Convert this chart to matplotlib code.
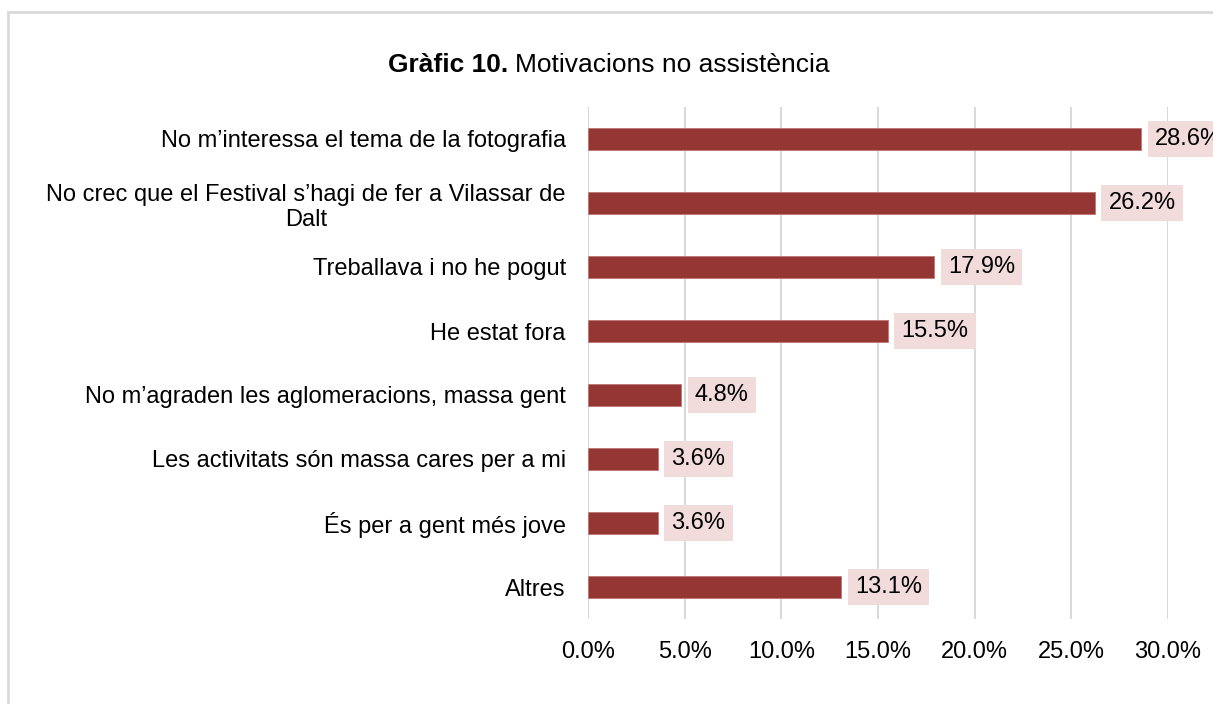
import matplotlib.pyplot as plt
from matplotlib.patches import Rectangle

plt.rcParams['font.family'] = ['Liberation Sans', 'DejaVu Sans']

# Data
categories = ['No m\u2019interessa el tema de la fotografia',
              'No crec que el Festival s\u2019hagi de fer a Vilassar de\nDalt',
              'Treballava i no he pogut',
              'He estat fora',
              'No m\u2019agraden les aglomeracions, massa gent',
              'Les activitats són massa cares per a mi',
              'És per a gent més jove',
              'Altres']
values = [28.6, 26.2, 17.9, 15.5, 4.8, 3.6, 3.6, 13.1]
x_ticks = [0, 5, 10, 15, 20, 25, 30]

W, H = 1213, 704
FS = 17
fig = plt.figure(figsize=(W / 100, H / 100), dpi=100)
ax = fig.add_axes([588 / W, 1 - 619 / H, (1168 - 588) / W, (619 - 107) / H])

# gray frame around the chart area
fig.patches.append(Rectangle((8 / W, -0.1), 1.2, 1 - 12 / H + 0.1,
                             transform=fig.transFigure, fill=False,
                             edgecolor='#d9d9d9', linewidth=2))

pos = list(range(len(categories)))
ax.barh(pos, values, height=0.35, color='#943634', edgecolor='#c07472',
        linewidth=0.6, zorder=3)

for p, v in zip(pos, values):
    ax.annotate(f'{v:.1f}%', xy=(v, p), xytext=(10, 0), textcoords='offset points',
                ha='left', va='center', fontsize=FS, color='black', annotation_clip=False,
                bbox=dict(boxstyle='square,pad=0.3', facecolor='#f2dcdb', edgecolor='none'),
                zorder=4)

ax.set_xlim(0, 30)
ax.set_ylim(len(categories) - 0.5, -0.5)
ax.set_yticks(pos)
ax.set_yticklabels(categories, fontsize=FS)
for lbl in ax.get_yticklabels():
    lbl.set_multialignment('center')
ax.set_xticks(x_ticks)
ax.set_xticklabels([f'{t:.1f}%' for t in x_ticks], fontsize=FS)
ax.tick_params(axis='both', length=0)
ax.tick_params(axis='x', pad=16)
ax.tick_params(axis='y', pad=16)
ax.grid(axis='x', color='#d9d9d9', linewidth=1.5, zorder=0)
for s in ax.spines.values():
    s.set_visible(False)

fig.text(508 / W, 1 - 65 / H, 'Gràfic 10.', fontsize=19, fontweight='bold',
         ha='right', va='center')
fig.text(515 / W, 1 - 65 / H, 'Motivacions no assistència', fontsize=19,
         ha='left', va='center')

fig.savefig('out.png', dpi=100)
